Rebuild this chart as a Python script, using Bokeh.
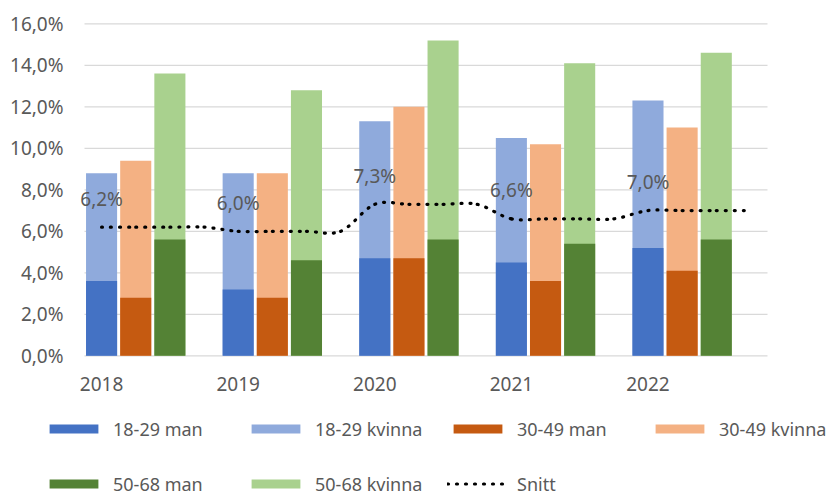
from bokeh.plotting import figure
from bokeh.models import ColumnDataSource, Range1d, Legend, LegendItem
from bokeh.core.properties import value
from bokeh.embed import file_html
from bokeh.resources import INLINE

# ---------------- data ----------------
years = ["2018", "2019", "2020", "2021", "2022"]
groups = ["18-29", "30-49", "50-68"]

man_18_29 = [3.6, 3.2, 4.7, 4.5, 5.2]
kvinna_18_29 = [8.8, 8.8, 11.3, 10.5, 12.3]
man_30_49 = [2.8, 2.8, 4.7, 3.6, 4.1]
kvinna_30_49 = [9.4, 8.8, 12.0, 10.2, 11.0]
man_50_68 = [5.6, 4.6, 5.6, 5.4, 5.6]
kvinna_50_68 = [13.6, 12.8, 15.2, 14.1, 14.6]
snitt = [6.2, 6.0, 7.3, 6.6, 7.0]

y_ticks = [0, 2, 4, 6, 8, 10, 12, 14, 16]
y_tick_labels = ["0,0%", "2,0%", "4,0%", "6,0%", "8,0%", "10,0%", "12,0%", "14,0%", "16,0%"]

# ---------------- styling / layout ----------------
colors_man = ["#4472C4", "#C55A11", "#548235"]
colors_kvinna = ["#8FAADC", "#F4B183", "#A9D18E"]
TEXT = "#595959"
GRID = "#D9D9D9"
FONT = "Noto Sans"
SLOTS = 4            # category slots per year (3 bars + gap)
BAR_W = 0.91
W, H = 833, 497
PLOT_L, PLOT_R = 84.0, 767.0      # plot area in pixels
PLOT_T, PLOT_B = 23.3, 355.3

n_slots = SLOTS * len(years)
y_max = y_ticks[-1]
ux = (PLOT_R - PLOT_L) / n_slots          # px per slot
uy = (PLOT_B - PLOT_T) / y_max            # px per percent

x_range = Range1d(-PLOT_L / ux, (W - PLOT_L) / ux)
y_range = Range1d(-(H - PLOT_B) / uy, y_max + PLOT_T / uy)

p = figure(width=W, height=H, x_range=x_range, y_range=y_range,
           x_axis_type=None, y_axis_type=None,
           output_backend="svg", toolbar_location=None,
           min_border=0)
p.outline_line_color = None
p.background_fill_color = "white"
p.border_fill_color = "white"

# ---------------- gridlines and axis labels ----------------
grid_src = ColumnDataSource(dict(x0=[0] * len(y_ticks), x1=[n_slots] * len(y_ticks),
                                 y=y_ticks, t=y_tick_labels))
p.segment(x0="x0", y0="y", x1="x1", y1="y", source=grid_src,
          line_color=GRID, line_width=1.3)
p.text(x="x0", y="y", text="t", source=grid_src, x_offset=-21,
       text_align="right", text_baseline="middle", text_font=value(FONT),
       text_font_size="19px", text_color=TEXT)

x_ticks = [SLOTS * k + 0.5 for k in range(len(years))]
year_src = ColumnDataSource(dict(x=x_ticks, y=[0] * len(years), t=years))
p.text(x="x", y="y", text="t", source=year_src, y_offset=28,
       text_align="center", text_baseline="middle", text_font=value(FONT),
       text_font_size="19px", text_color=TEXT)

# ---------------- bars ----------------
man_series = [man_18_29, man_30_49, man_50_68]
kvinna_series = [kvinna_18_29, kvinna_30_49, kvinna_50_68]

renderers = {}
for j, g in enumerate(groups):
    xs = [SLOTS * k + j + 0.5 for k in range(len(years))]
    src_k = ColumnDataSource(dict(x=xs, top=kvinna_series[j]))
    src_m = ColumnDataSource(dict(x=xs, top=man_series[j]))
    rk = p.vbar(x="x", top="top", bottom=0, width=BAR_W, source=src_k,
                fill_color=colors_kvinna[j], line_color=None)
    rm = p.vbar(x="x", top="top", bottom=0, width=BAR_W, source=src_m,
                fill_color=colors_man[j], line_color=None)
    renderers[g + " man"] = rm
    renderers[g + " kvinna"] = rk

# ---------------- smoothed average line ----------------
lx = [i + 0.5 for i in range(n_slots)]
ly = [snitt[i // SLOTS] for i in range(n_slots)]

def clamp(i):
    return max(0, min(len(lx) - 1, i))

x0, y0, x1, y1, cx0, cy0, cx1, cy1 = [], [], [], [], [], [], [], []
for i in range(len(lx) - 1):
    a, b, c, d = clamp(i - 1), i, i + 1, clamp(i + 2)
    x0.append(lx[b]); y0.append(ly[b])
    x1.append(lx[c]); y1.append(ly[c])
    cx0.append(lx[b] + (lx[c] - lx[a]) / 6.0)
    cy0.append(ly[b] + (ly[c] - ly[a]) / 6.0)
    cx1.append(lx[c] - (lx[d] - lx[b]) / 6.0)
    cy1.append(ly[c] - (ly[d] - ly[b]) / 6.0)

bez_src = ColumnDataSource(dict(x0=x0, y0=y0, x1=x1, y1=y1,
                                cx0=cx0, cy0=cy0, cx1=cx1, cy1=cy1))
snitt_r = p.bezier(x0="x0", y0="y0", x1="x1", y1="y1", cx0="cx0", cy0="cy0",
                   cx1="cx1", cy1="cy1", source=bez_src,
                   line_color="black", line_width=3.2, line_dash="1 8",
                   line_cap="round")

# data labels
lab_src = ColumnDataSource(dict(
    x=[SLOTS * k + 0.5 for k in range(len(years))],
    y=snitt,
    t=[("%.1f" % v).replace(".", ",") + "%" for v in snitt]))
p.text(x="x", y="y", text="t", source=lab_src, text_align="center",
       text_baseline="middle", y_offset=-28.5, text_font=value(FONT),
       text_font_size="19px", text_color=TEXT)

# ---------------- legend (two rows) ----------------
def make_legend(items, loc):
    return Legend(items=items, orientation="horizontal", location=loc,
                  border_line_color=None, background_fill_alpha=0,
                  padding=0, margin=0, spacing=0,
                  glyph_width=61, glyph_height=11, label_standoff=9,
                  label_width=132, label_height=25,
                  label_text_font=FONT, label_text_font_size="18px",
                  label_text_color=TEXT)

row1 = [LegendItem(label=k, renderers=[renderers[k]])
        for k in ["18-29 man", "18-29 kvinna", "30-49 man", "30-49 kvinna"]]
row2 = [LegendItem(label=k, renderers=[renderers[k]])
        for k in ["50-68 man", "50-68 kvinna"]]
row2.append(LegendItem(label="Snitt", renderers=[snitt_r]))

p.add_layout(make_legend(row1, (43, 56)), "center")
p.add_layout(make_legend(row2, (43, 1)), "center")

open("out.html", "w").write(file_html(p, INLINE))
